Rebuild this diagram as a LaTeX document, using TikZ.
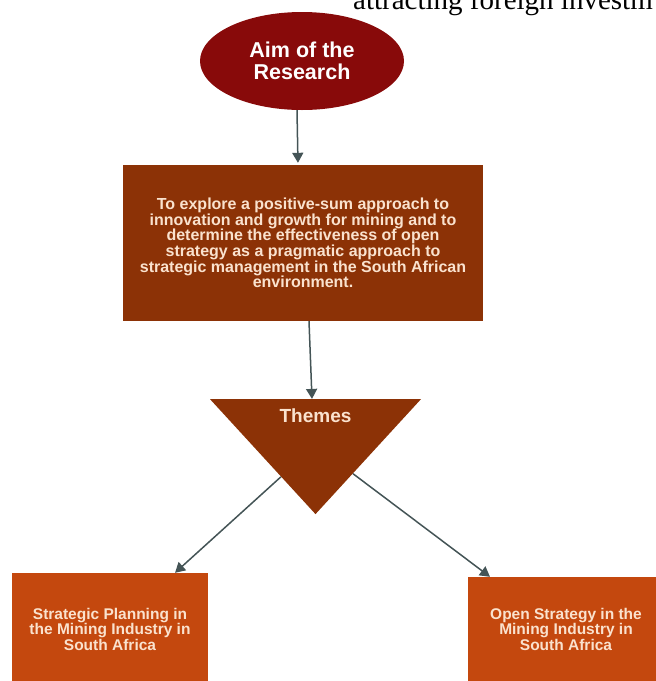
\documentclass[tikz,border=0pt]{standalone}
\usepackage{fontspec}
\setmainfont{Liberation Sans}
\newfontfamily\pagefont{Liberation Serif}
\usetikzlibrary{shapes.geometric,arrows.meta}

\definecolor{aimred}{RGB}{136,10,10}
\definecolor{goalbrown}{RGB}{140,50,6}
\definecolor{planorange}{RGB}{196,72,14}
\definecolor{linkgrey}{RGB}{68,84,86}
\definecolor{textpeach}{RGB}{250,226,206}

\begin{document}
\begin{tikzpicture}[x=1pt, y=-1pt,
    box/.style={rectangle, fill=goalbrown, text=textpeach, align=center, inner sep=0pt,
                font=\bfseries\fontsize{15.5}{15.5}\selectfont},
    link/.style={-{Triangle[width=11pt,length=10pt]}, draw=linkgrey, line width=1.5pt}]
            \useasboundingbox (0,0) rectangle (656,681);

            % Define vertices
            \node[anchor=base west, inner sep=0pt, font=\pagefont\fontsize{29}{29}\selectfont] (page) at (353,9) {attracting foreign investm};
            \node[ellipse, fill=aimred, minimum width=204pt, minimum height=98pt, text=white, align=center,
                  font=\bfseries\fontsize{21.5}{22}\selectfont] (aim) at (302,61) {Aim of the\\Research};
            \node[box, minimum width=360pt, minimum height=156pt, font=\bfseries\fontsize{16}{15.6}\selectfont] (goal) at (303,243)
                {To explore a positive-sum approach to\\innovation and growth for mining and to\\determine the effectiveness of open\\strategy as a pragmatic approach to\\strategic management in the South African\\environment.};
            \node[isosceles triangle, isosceles triangle stretches, shape border rotate=270, fill=goalbrown,
                  minimum width=211pt, minimum height=115pt, inner sep=0pt,
                  label={[yshift=30pt, text=textpeach, font=\bfseries\fontsize{19}{19}\selectfont]center:Themes}] (themes) at (315.5,445.5) {};
            \node[box, fill=planorange, minimum width=196pt, minimum height=112pt] (strat) at (110,629)
                {Strategic Planning in\\the Mining Industry in\\South Africa};
            \node[box, fill=planorange, minimum width=196pt, minimum height=104pt] (open) at (566,629)
                {Open Strategy in the\\Mining Industry in\\South Africa};

            % Draw edges
            \draw[link, shorten >=2pt] ([xshift=-5pt]aim.south) -- ([xshift=-5pt]goal.north);
            \draw[link] ([xshift=6pt]goal.south) -- ([xshift=-3.5pt]themes.north);
            \draw[link] (themes) -- ([xshift=65pt]strat.north);
            \draw[link] (themes) -- ([xshift=-76pt]open.north);
        \end{tikzpicture}
\end{document}
